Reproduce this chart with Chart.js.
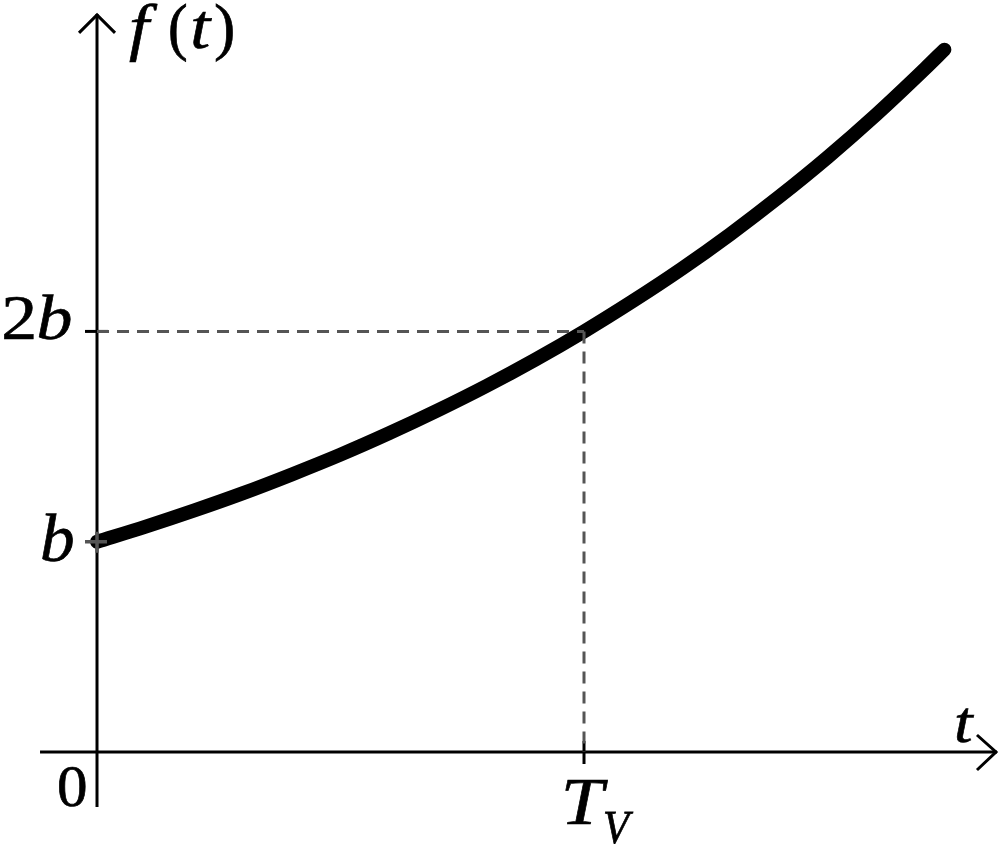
<!DOCTYPE html>
<html><head><meta charset="utf-8">
<script src="https://cdn.jsdelivr.net/npm/chart.js@4.4.0/dist/chart.umd.min.js"></script>
<style>html,body{margin:0;padding:0;background:#fff;overflow:hidden}#wrap{width:1000px;height:848px;position:relative}
.pre{position:absolute;left:-9999px;top:0;font-family:"Liberation Serif";}
</style>
</head><body><div id="wrap"><canvas id="c"></canvas></div>
<span class="pre">f(t) 2b 0 T</span><span class="pre" style="font-style:italic">f t b T V</span>
<script>
// Curve f(t), t in units of T_V, f in units of b
const tValues = [0, 0.1, 0.2, 0.3, 0.4, 0.5, 0.6, 0.7, 0.8, 0.9, 1.0, 1.1, 1.2, 1.3, 1.4, 1.5, 1.6, 1.7, 1.74];
const fValues = [1.000, 1.072, 1.149, 1.231, 1.320, 1.414, 1.516, 1.625, 1.741, 1.866, 2.000, 2.144, 2.297, 2.462, 2.639, 2.828, 3.031, 3.249, 3.340];
// Marked values
const xMarks = [1];          // T_V
const xMarkLabels = ['T', 'V'];
const yMarks = [1, 2];       // b, 2b
const yMarkLabels = ['b', '2b'];
const yAxisLabel = ['f', '(', 't', ')'];
const xAxisLabel = 't';
const originLabel = '0';

const SERIF = '"Liberation Serif"';
const fnt = (italic, s) => (italic ? 'italic ' : '') + s + 'px ' + SERIF;

const curve = tValues.map((t, i) => ({x: t, y: fValues[i]}));
const hDash = [{x: 0, y: yMarks[1]}, {x: xMarks[0], y: yMarks[1]}];
const vDash = [{x: xMarks[0], y: yMarks[1]}, {x: xMarks[0], y: 0}];

function fitSize(ctx, text, italic, h) {
  ctx.font = fnt(italic, 100);
  const m = ctx.measureText(text);
  return h / (m.actualBoundingBoxAscent + m.actualBoundingBoxDescent) * 100;
}
// draw text centred in [left,right] with a mild horizontal adjustment
function glyph(ctx, text, italic, size, left, right, o) {
  ctx.font = fnt(italic, size); ctx.textAlign = 'left';
  const m = ctx.measureText(text);
  const w = m.actualBoundingBoxLeft + m.actualBoundingBoxRight;
  const sx = Math.max(0.92, Math.min(1.12, (right - left) / w));
  const cx = (left + right) / 2;
  const base = o.base !== undefined ? o.base : o.top + m.actualBoundingBoxAscent;
  ctx.save();
  ctx.translate(cx - w * sx / 2, base);
  ctx.scale(sx, 1);
  ctx.fillText(text, m.actualBoundingBoxLeft, 0);
  ctx.lineWidth = 0.7 / sx;
  ctx.strokeStyle = ctx.fillStyle;
  ctx.strokeText(text, m.actualBoundingBoxLeft, 0);
  ctx.restore();
  return base;
}

const axesPlugin = {
  id: 'axes',
  beforeDatasetsDraw(chart) {
    const ctx = chart.ctx, xs = chart.scales.x, ys = chart.scales.y;
    const x0 = xs.getPixelForValue(0), y0 = ys.getPixelForValue(0);
    ctx.save();
    ctx.strokeStyle = '#000';
    ctx.lineWidth = 3;
    ctx.lineCap = 'butt';
    const yTop = ys.getPixelForValue(3.51), yBot = ys.getPixelForValue(-0.262);
    ctx.beginPath(); ctx.moveTo(x0, yBot); ctx.lineTo(x0, yTop); ctx.stroke();
    ctx.beginPath(); ctx.moveTo(x0 - 18, yTop + 19); ctx.lineTo(x0, yTop + 1); ctx.lineTo(x0 + 18, yTop + 19); ctx.stroke();
    const xL = xs.getPixelForValue(-0.117), xR = xs.getPixelForValue(1.848);
    ctx.beginPath(); ctx.moveTo(xL, y0); ctx.lineTo(xR, y0); ctx.stroke();
    ctx.beginPath(); ctx.moveTo(xR - 20, y0 - 17); ctx.lineTo(xR - 1, y0); ctx.lineTo(xR - 20, y0 + 18); ctx.stroke();
    const y2 = ys.getPixelForValue(yMarks[1]);
    ctx.beginPath(); ctx.moveTo(x0 - 12, y2); ctx.lineTo(x0 + 11, y2); ctx.stroke();
    const xt = xs.getPixelForValue(xMarks[0]);
    ctx.beginPath(); ctx.moveTo(xt, y0 - 11); ctx.lineTo(xt, y0 + 12); ctx.stroke();
    ctx.restore();
  },
  afterDatasetsDraw(chart) {
    const ctx = chart.ctx, xs = chart.scales.x, ys = chart.scales.y;
    const x0 = xs.getPixelForValue(0), y0 = ys.getPixelForValue(0);
    ctx.save();
    const y1 = ys.getPixelForValue(yMarks[0]);
    const y2 = ys.getPixelForValue(yMarks[1]);
    const xt = xs.getPixelForValue(xMarks[0]);
    ctx.strokeStyle = '#555'; ctx.lineWidth = 3.5;
    ctx.beginPath(); ctx.moveTo(x0 - 12, y1); ctx.lineTo(x0 + 10, y1); ctx.moveTo(x0, y1 - 10); ctx.lineTo(x0, y1 + 11); ctx.stroke();

    ctx.fillStyle = '#000';
    ctx.textBaseline = 'alphabetic';
    // f(t)
    let s = fitSize(ctx, '(', false, 59);
    let base = glyph(ctx, yAxisLabel[1], false, s, x0 + 73, x0 + 89, {top: 3});
    glyph(ctx, yAxisLabel[0], true, s, x0 + 27, x0 + 66, {base});
    glyph(ctx, yAxisLabel[2], true, s, x0 + 95, x0 + 116, {base});
    glyph(ctx, yAxisLabel[3], false, s, x0 + 119, x0 + 136, {base});
    // 2b
    s = fitSize(ctx, '2', false, 43);
    base = glyph(ctx, '2', false, s, x0 - 95, x0 - 62, {top: y2 - 34});
    glyph(ctx, 'b', true, s, x0 - 59, x0 - 25, {base});
    // b
    s = fitSize(ctx, yMarkLabels[0], true, 47);
    glyph(ctx, yMarkLabels[0], true, s, x0 - 55, x0 - 24, {top: y1 - 29});
    // 0
    s = fitSize(ctx, originLabel, false, 40);
    glyph(ctx, originLabel, false, s, x0 - 38, x0 - 11, {top: y0 + 15});
    // t
    const xtl = xs.getPixelForValue(1.762);
    s = fitSize(ctx, xAxisLabel, true, 34);
    glyph(ctx, xAxisLabel, true, s, xtl, xtl + 20, {top: y0 - 44});
    // T_V
    s = fitSize(ctx, xMarkLabels[0], true, 45);
    glyph(ctx, xMarkLabels[0], true, s, xt - 19, xt + 24, {top: y0 + 28});
    s = fitSize(ctx, xMarkLabels[1], true, 31);
    glyph(ctx, xMarkLabels[1], true, s, xt + 21, xt + 49, {top: y0 + 60});
    ctx.restore();
  }
};

function draw() {
  new Chart(document.getElementById('c'), {
    type: 'scatter',
    data: {
      datasets: [
        {data: hDash, showLine: true, borderColor: '#555', borderWidth: 3, borderDash: [12, 8], pointRadius: 0, clip: false},
        {data: vDash, showLine: true, borderColor: '#555', borderWidth: 3, borderDash: [12, 8], pointRadius: 0, clip: false},
        {data: curve, showLine: true, borderColor: '#000', borderWidth: 14, borderCapStyle: 'round', cubicInterpolationMode: 'monotone', pointRadius: 0, clip: false}
      ]
    },
    options: {
      responsive: true,
      maintainAspectRatio: false,
      animation: false,
      events: [],
      layout: {padding: 0},
      plugins: {legend: {display: false}, tooltip: {enabled: false}, title: {display: false}},
      scales: {
        x: {type: 'linear', display: false, min: -0.1992, max: 1.8542},
        y: {type: 'linear', display: false, min: -0.4565, max: 3.576}
      }
    },
    plugins: [axesPlugin]
  });
}
Promise.all([
  document.fonts.load('60px "Liberation Serif"'),
  document.fonts.load('italic 60px "Liberation Serif"')
]).then(draw, draw);
</script>
</body></html>
